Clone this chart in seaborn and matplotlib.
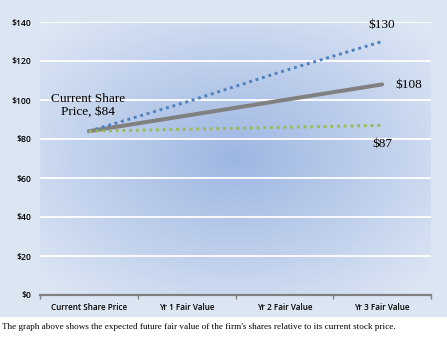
import numpy as np
import pandas as pd
import matplotlib
matplotlib.use("Agg")
import matplotlib.pyplot as plt
from matplotlib.ticker import FixedLocator
import seaborn as sns

# Categories and projected share values
categories = ["Current Share Price", "Yr 1 Fair Value", "Yr 2 Fair Value", "Yr 3 Fair Value"]
high_case = [84, 99, 115, 130]
base_case = [84, 92, 100, 108]
low_case = [84, 85, 86, 87]
y_ticks = [0, 20, 40, 60, 80, 100, 120, 140]

sns.set_theme(style="white")
plt.rcParams["font.family"] = ["Liberation Serif", "DejaVu Serif"]

fig = plt.figure(figsize=(4.47, 3.37), dpi=100)
fig.patch.set_facecolor("white")

# Light panel behind the whole chart
bg = fig.add_axes([0, 20 / 337, 1, 317 / 337])
bg.set_facecolor("#dce6f2")
bg.set_xticks([])
bg.set_yticks([])
for s in bg.spines.values():
    s.set_visible(False)

ax = fig.add_axes([40 / 447, 42 / 337, 391 / 447, 273 / 337])
ax.set_xlim(-0.5, 3.5)
ax.set_ylim(0, 140)

# Radial gradient fill of the plot area
gx, gy = np.meshgrid(np.linspace(-1, 1, 400), np.linspace(-1, 1, 300))
r = np.clip(np.sqrt(gx ** 2 + gy ** 2) / 1.35, 0, 1)
c_in = np.array([0x9d, 0xb6, 0xe2]) / 255
c_out = np.array([0xdd, 0xe6, 0xf4]) / 255
img = c_in[None, None, :] * (1 - r[..., None]) + c_out[None, None, :] * r[..., None]
ax.imshow(img, extent=(-0.5, 3.5, 0, 140), aspect="auto", zorder=0, interpolation="bilinear")

for v in y_ticks[1:]:
    ax.axhline(v, color="white", lw=1.3, zorder=1)

x = np.arange(len(categories))
df = pd.DataFrame({"pos": np.tile(x, 3),
                   "value": high_case + base_case + low_case,
                   "series": ["high"] * 4 + ["base"] * 4 + ["low"] * 4})

sns.lineplot(data=df[df.series == "base"], x="pos", y="value", color="#808080",
             lw=2.9, ax=ax, zorder=3)
sns.lineplot(data=df[df.series == "high"], x="pos", y="value", color="#4f81bd",
             lw=2.1, linestyle=(0, (1, 1.3)), ax=ax, zorder=4)
sns.lineplot(data=df[df.series == "low"], x="pos", y="value", color="#9bbb59",
             lw=2.1, linestyle=(0, (1, 1.3)), ax=ax, zorder=4)

ax.set_xlim(-0.5, 3.5)
ax.set_ylim(0, 140)

# Value labels
ax.text(3.0, high_case[-1] + 8.5, f"${high_case[-1]}", ha="center", va="center", fontsize=9.5, color="black")
ax.text(3.14, base_case[-1] - 0.3, f"${base_case[-1]}", ha="left", va="center", fontsize=9.5, color="black")
ax.text(3.0, low_case[-1] - 9.6, f"${low_case[-1]}", ha="center", va="center", fontsize=9.5, color="black")
ax.text(-0.01, 97.4, f"Current Share\nPrice, ${base_case[0]}", ha="center", va="center",
        fontsize=9.5, color="black", linespacing=1.05)

# Axes styling
for s in ["top", "right", "left"]:
    ax.spines[s].set_visible(False)
ax.spines["bottom"].set_color("#808080")
ax.spines["bottom"].set_linewidth(1.6)
ax.spines["bottom"].set_zorder(5)

ax.set_yticks(y_ticks)
ax.set_yticklabels([f"${v}" for v in y_ticks], fontsize=6.2, fontfamily="Open Sans",
                   fontweight="semibold", color="black")
ax.tick_params(axis="y", length=0, pad=6.5)

ax.set_xticks(x)
ax.set_xticklabels(categories, fontsize=5.9, fontfamily="Open Sans", fontweight="semibold", color="black")
ax.xaxis.set_minor_locator(FixedLocator([-0.5, 0.5, 1.5, 2.5, 3.5]))
ax.tick_params(axis="x", which="major", length=0, pad=5.5)
ax.tick_params(axis="x", which="minor", bottom=True, length=3, width=1, color="#808080", direction="out")
ax.set_xlabel("")
ax.set_ylabel("")

fig.text(2 / 447, 1 - 327 / 337,
         "The graph above shows the expected future fair value of the firm's shares relative to its current stock price.",
         ha="left", va="center", fontsize=6.55, color="black")

fig.savefig("out.png", dpi=100)
